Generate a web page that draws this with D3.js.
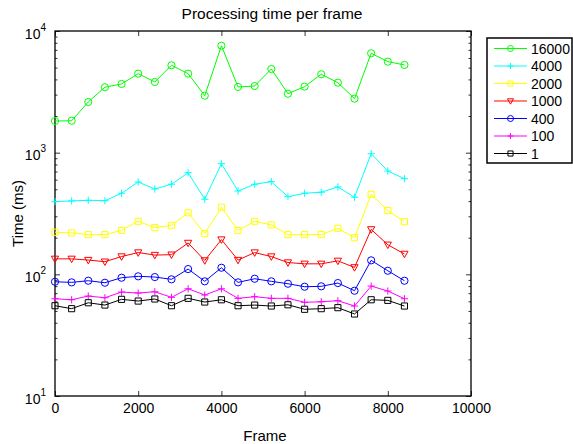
<!DOCTYPE html>
<html>
<head>
<meta charset="utf-8">
<script src="https://cdn.jsdelivr.net/npm/d3@7"></script>
<style>
  body { margin: 0; background: #fff; }
  svg { font-family: "Liberation Sans", Arial, Helvetica, sans-serif; }
</style>
</head>
<body>
<svg id="chart"></svg>
<script>
const frames = [0, 400, 800, 1200, 1600, 2000, 2400, 2800, 3200, 3600, 4000,
  4400, 4800, 5200, 5600, 6000, 6400, 6800, 7200, 7600, 8000, 8400];

const t16000 = [1820, 1830, 2610, 3450, 3670, 4460, 3810, 5230, 4460, 2940, 7570,
  3470, 3530, 4870, 3050, 3490, 4410, 3760, 2780, 6560, 5600, 5260];
const t4000 = [396, 401, 406, 403, 464, 574, 503, 550, 685, 414, 812,
  484, 550, 578, 435, 464, 473, 523, 430, 981, 707, 611];
const t2000 = [222, 219, 212, 212, 230, 273, 242, 253, 321, 216, 356,
  229, 273, 255, 212, 212, 212, 239, 200, 455, 334, 271];
const t1000 = [134, 134, 131, 127, 140, 151, 144, 145, 181, 130, 193,
  131, 151, 140, 125, 122, 122, 129, 114, 234, 175, 147];
const t400 = [86.9, 85.9, 88.6, 85.3, 93.8, 96.3, 95.0, 91.0, 110.5, 87.6, 113.3,
  85.9, 92.0, 87.6, 83.7, 79.1, 79.7, 84.8, 73.3, 130.3, 107.0, 88.6];
const t100 = [63.0, 61.8, 66.3, 64.2, 71.5, 70.2, 71.9, 64.7, 76.1, 67.6, 76.1,
  63.5, 65.5, 63.5, 63.5, 58.9, 59.5, 60.7, 54.9, 80.1, 72.9, 63.0];
const t1 = [55.2, 52.2, 58.4, 55.9, 62.3, 60.3, 62.7, 55.2, 63.5, 59.2, 61.8,
  55.2, 55.9, 54.9, 56.2, 51.6, 52.2, 53.2, 47.2, 61.8, 61.1, 54.9];

const seriesNames = ["16000", "4000", "2000", "1000", "400", "100", "1"];
const seriesValues = [t16000, t4000, t2000, t1000, t400, t100, t1];
const seriesColors = ["#00ff00", "#00ffff", "#ffff00", "#ff0000", "#0000ff", "#ff00ff", "#000000"];
const seriesMarkers = ["circle", "plus", "square", "triangle", "circle", "plus", "square"];

const xTicks = [0, 2000, 4000, 6000, 8000, 10000];
const yTicks = [10, 100, 1000, 10000];
const yExponents = ["1", "2", "3", "4"];

const w = 573;
const h = 444;
const margin = { left: 55, right: 102, top: 31, bottom: 48 };

const svg = d3.select("#chart").attr("width", w).attr("height", h);

const x = d3.scaleLinear().domain([0, 10000]).range([margin.left, w - margin.right]);
const y = d3.scaleLog().domain([10, 10000]).range([h - margin.bottom, margin.top]);

const minorTicks = [];
[10, 100, 1000].forEach((d) => {
  for (let k = 2; k <= 9; k++) minorTicks.push(d * k);
});

// marker shapes, centred on the point
function markerPath(type, s) {
  if (type === "circle") {
    return `M${-s},0A${s},${s} 0 1,0 ${s},0A${s},${s} 0 1,0 ${-s},0Z`;
  }
  if (type === "square") {
    const a = s * 0.85;
    return `M${-a},${-a}H${a}V${a}H${-a}Z`;
  }
  if (type === "triangle") {
    return `M${-s},${-s * 0.75}H${s}L0,${s * 1.05}Z`;
  }
  return `M${-s},0H${s}M0,${-s}V${s}`;
}

// axes (ticks inside, box all around)
svg.append("g")
  .attr("transform", `translate(0,${h - margin.bottom})`)
  .call(d3.axisBottom(x).tickValues(xTicks).tickFormat(d3.format("d"))
    .tickSizeInner(-5).tickSizeOuter(0).tickPadding(7))
  .call((g) => g.select(".domain").remove())
  .call((g) => g.selectAll("text").attr("font-size", 14).attr("fill", "#000").attr("font-family", null));

svg.append("g")
  .attr("transform", `translate(0,${margin.top})`)
  .call(d3.axisTop(x).tickValues(xTicks).tickSizeInner(-5).tickSizeOuter(0).tickFormat(""))
  .call((g) => g.select(".domain").remove());

const yLeft = svg.append("g")
  .attr("transform", `translate(${margin.left},0)`)
  .call(d3.axisLeft(y).tickValues(yTicks).tickSizeInner(-5).tickSizeOuter(0).tickPadding(9))
  .call((g) => g.select(".domain").remove());

yLeft.selectAll("text").each(function (d, i) {
  const t = d3.select(this).text(null)
    .attr("font-size", 14).attr("fill", "#000").attr("font-family", null)
    .attr("dy", "0.5em");
  t.append("tspan").text("10");
  t.append("tspan").attr("font-size", 10).attr("dy", "-0.8em").text(yExponents[i]);
});

svg.append("g")
  .attr("transform", `translate(${margin.left},0)`)
  .call(d3.axisLeft(y).tickValues(minorTicks).tickSizeInner(-2.5).tickSizeOuter(0).tickFormat(""))
  .call((g) => g.select(".domain").remove());

svg.append("g")
  .attr("transform", `translate(${w - margin.right},0)`)
  .call(d3.axisRight(y).tickValues(yTicks).tickSizeInner(-5).tickSizeOuter(0).tickFormat(""))
  .call((g) => g.select(".domain").remove());

svg.append("g")
  .attr("transform", `translate(${w - margin.right},0)`)
  .call(d3.axisRight(y).tickValues(minorTicks).tickSizeInner(-2.5).tickSizeOuter(0).tickFormat(""))
  .call((g) => g.select(".domain").remove());

svg.selectAll(".tick line").attr("stroke", "#000").attr("stroke-width", 0.8);

// box
svg.append("rect")
  .attr("x", margin.left)
  .attr("y", margin.top)
  .attr("width", w - margin.left - margin.right)
  .attr("height", h - margin.top - margin.bottom)
  .attr("fill", "none")
  .attr("stroke", "#000")
  .attr("stroke-width", 1.3);

// series
const line = d3.line().x((d, i) => x(frames[i])).y((d) => y(d));

seriesValues.forEach((vals, si) => {
  const g = svg.append("g");
  g.append("path")
    .datum(vals)
    .attr("d", line)
    .attr("fill", "none")
    .attr("stroke", seriesColors[si])
    .attr("stroke-width", 1);
  g.selectAll(".mk")
    .data(vals)
    .enter()
    .append("path")
    .attr("class", "mk")
    .attr("transform", (d, i) => `translate(${x(frames[i])},${y(d)})`)
    .attr("d", markerPath(seriesMarkers[si], 3.6))
    .attr("fill", "none")
    .attr("stroke", seriesColors[si])
    .attr("stroke-width", 1);
});

// labels
svg.append("text")
  .attr("x", 272).attr("y", 19)
  .attr("text-anchor", "middle")
  .attr("font-size", 15.5)
  .text("Processing time per frame");

svg.append("text")
  .attr("x", (margin.left + w - margin.right) / 2 + 2).attr("y", 441)
  .attr("text-anchor", "middle")
  .attr("font-size", 15)
  .text("Frame");

svg.append("text")
  .attr("transform", `translate(23,${(margin.top + h - margin.bottom) / 2}) rotate(-90)`)
  .attr("text-anchor", "middle")
  .attr("font-size", 15)
  .text("Time (ms)");

// legend
const legend = svg.append("g").attr("transform", "translate(487,38)");
legend.append("rect")
  .attr("width", 85).attr("height", 125)
  .attr("fill", "#fff")
  .attr("stroke", "#000")
  .attr("stroke-width", 1.5);

seriesNames.forEach((name, i) => {
  const row = legend.append("g").attr("transform", `translate(0,${10.5 + i * 17.5})`);
  row.append("line")
    .attr("x1", 7).attr("x2", 40)
    .attr("stroke", seriesColors[i]).attr("stroke-width", 1);
  row.append("path")
    .attr("transform", "translate(23.5,0)")
    .attr("d", markerPath(seriesMarkers[i], 3))
    .attr("fill", "none")
    .attr("stroke", seriesColors[i]).attr("stroke-width", 1);
  row.append("text")
    .attr("x", 44).attr("dy", "0.36em")
    .attr("font-size", 14)
    .text(name);
});
</script>
</body>
</html>
